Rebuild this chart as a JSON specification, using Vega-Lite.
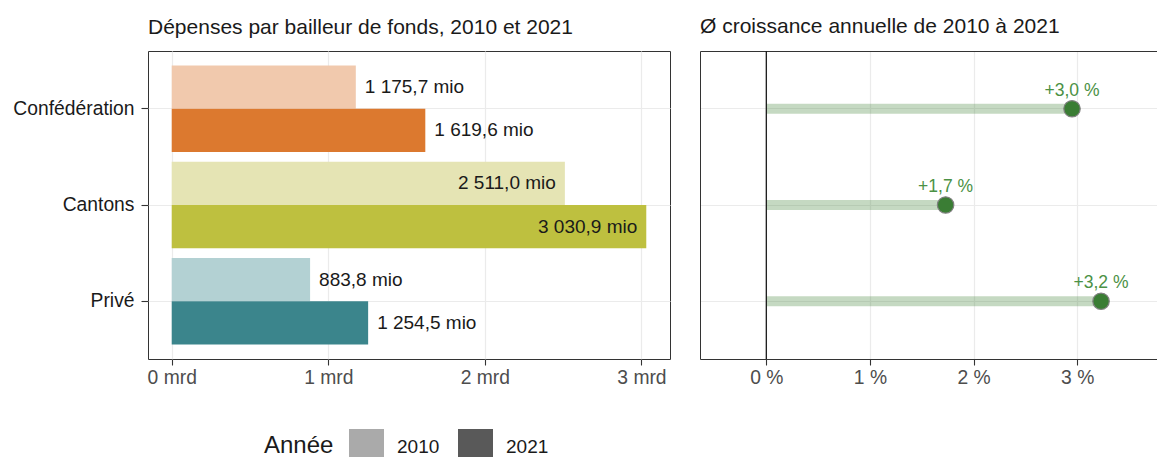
{
  "$schema": "https://vega.github.io/schema/vega-lite/v6.json",
  "background": "white",
  "padding": {"left": 12, "top": 16, "right": 0, "bottom": 0},
  "spacing": 29,
  "config": {
    "font": "Liberation Sans",
    "view": {"stroke": "#333333", "strokeWidth": 1},
    "axis": {
      "labelFont": "Liberation Sans",
      "labelFontSize": 19.3,
      "labelColor": "#4d4d4d",
      "tickColor": "#333333",
      "tickSize": 6,
      "tickWidth": 1.1,
      "gridColor": "#ebebeb",
      "gridWidth": 1.2,
      "domain": false,
      "labelPadding": 3,
      "title": null
    },
    "title": {
      "font": "Liberation Sans",
      "fontSize": 21,
      "fontWeight": "normal",
      "color": "#1a1a1a",
      "anchor": "start",
      "frame": "group",
      "offset": 13
    }
  },
  "hconcat": [
    {
      "width": 522,
      "height": 308,
      "title": "Dépenses par bailleur de fonds, 2010 et 2021",
      "data": {
        "values": [
          {"bailleur": "Confédération", "annee": "2010", "cle": "Confédération 2010", "valeur": 1175.7, "label": "1 175,7 mio"},
          {"bailleur": "Confédération", "annee": "2021", "cle": "Confédération 2021", "valeur": 1619.6, "label": "1 619,6 mio"},
          {"bailleur": "Cantons", "annee": "2010", "cle": "Cantons 2010", "valeur": 2511.0, "label": "2 511,0 mio"},
          {"bailleur": "Cantons", "annee": "2021", "cle": "Cantons 2021", "valeur": 3030.9, "label": "3 030,9 mio"},
          {"bailleur": "Privé", "annee": "2010", "cle": "Privé 2010", "valeur": 883.8, "label": "883,8 mio"},
          {"bailleur": "Privé", "annee": "2021", "cle": "Privé 2021", "valeur": 1254.5, "label": "1 254,5 mio"}
        ]
      },
      "encoding": {
        "y": {
          "field": "bailleur",
          "type": "nominal",
          "sort": ["Confédération", "Cantons", "Privé"],
          "scale": {"paddingInner": 0.1, "paddingOuter": 0.15},
          "axis": {"grid": true, "labelColor": "#1a1a1a", "labelPadding": 7, "tickSize": 7}
        },
        "yOffset": {
          "field": "annee",
          "type": "nominal",
          "sort": ["2010", "2021"],
          "scale": {"paddingInner": 0, "paddingOuter": 0}
        }
      },
      "layer": [
        {
          "mark": {"type": "bar"},
          "encoding": {
            "x": {
              "field": "valeur",
              "type": "quantitative",
              "scale": {"domain": [-151.5, 3182.4], "nice": false, "zero": false},
              "axis": {"values": [0, 1000, 2000, 3000], "labelExpr": "(datum.value / 1000) + ' mrd'", "grid": true}
            },
            "fill": {
              "field": "cle",
              "type": "nominal",
              "scale": {
                "domain": ["Confédération 2010", "Confédération 2021", "Cantons 2010", "Cantons 2021", "Privé 2010", "Privé 2021"],
                "range": ["#f1c9ad", "#dc792f", "#e5e4b4", "#bec03f", "#b3d1d3", "#3b858c"]
              },
              "legend": null
            }
          }
        },
        {
          "mark": {"type": "bar"},
          "encoding": {
            "x": {"datum": 0, "type": "quantitative"},
            "color": {
              "field": "annee",
              "type": "nominal",
              "title": "Année",
              "scale": {"domain": ["2010", "2021"], "range": ["#aaaaaa", "#595959"]},
              "legend": {
                "orient": "none",
                "legendX": 116,
                "legendY": 378,
                "direction": "horizontal",
                "titleOrient": "left",
                "titleBaseline": "line-top",
                "titleLineHeight": 6,
                "titleFont": "Liberation Sans",
                "titleFontSize": 24,
                "titleFontWeight": "normal",
                "titleColor": "#1a1a1a",
                "titlePadding": 15,
                "labelFont": "Liberation Sans",
                "labelFontSize": 19,
                "labelColor": "#1a1a1a",
                "labelOffset": 13,
                "columnPadding": 18,
                "symbolType": "M-1,-1H1V0.6H-1Z",
                "symbolSize": 1225,
                "symbolStrokeWidth": 0,
                "symbolOpacity": 1
              }
            }
          }
        },
        {
          "transform": [{"filter": "datum.bailleur !== 'Cantons'"}],
          "mark": {"type": "text", "align": "left", "baseline": "middle", "dx": 9, "fontSize": 19, "color": "#1a1a1a"},
          "encoding": {
            "x": {"field": "valeur", "type": "quantitative"},
            "text": {"field": "label", "type": "nominal"}
          }
        },
        {
          "transform": [{"filter": "datum.bailleur === 'Cantons'"}],
          "mark": {"type": "text", "align": "right", "baseline": "middle", "dx": -9, "fontSize": 19, "color": "#1a1a1a"},
          "encoding": {
            "x": {"field": "valeur", "type": "quantitative"},
            "text": {"field": "label", "type": "nominal"}
          }
        }
      ]
    },
    {
      "width": 457,
      "height": 308,
      "title": "Ø croissance annuelle de 2010 à 2021",
      "view": {"stroke": null},
      "data": {
        "values": [
          {"bailleur": "Confédération", "croissance": 2.95, "label": "+3,0 %"},
          {"bailleur": "Cantons", "croissance": 1.73, "label": "+1,7 %"},
          {"bailleur": "Privé", "croissance": 3.23, "label": "+3,2 %"}
        ]
      },
      "resolve": {"axis": {"x": "independent"}},
      "layer": [
        {
          "mark": {"type": "bar", "height": 10, "color": "#4a8a40", "opacity": 0.32},
          "encoding": {
            "y": {
              "field": "bailleur",
              "type": "nominal",
              "sort": ["Confédération", "Cantons", "Privé"],
              "scale": {"paddingInner": 0.1, "paddingOuter": 0.15},
              "axis": {"grid": true, "labels": false, "ticks": false, "domain": true, "domainColor": "#333333", "domainWidth": 1}
            },
            "x": {
              "field": "croissance",
              "type": "quantitative",
              "scale": {"domain": [-0.64, 3.77], "nice": false, "zero": false},
              "axis": {"values": [0, 1, 2, 3], "labelExpr": "datum.value + ' %'", "grid": true, "domain": true, "domainColor": "#333333", "domainWidth": 1}
            }
          }
        },
        {
          "data": {"values": [{"zero": 0}]},
          "mark": {"type": "rule", "color": "#1a1a1a", "strokeWidth": 1.3},
          "encoding": {
            "x": {
              "field": "zero",
              "type": "quantitative",
              "axis": {"orient": "top", "labels": false, "ticks": false, "grid": false, "domain": true, "domainColor": "#333333", "domainWidth": 1}
            }
          }
        },
        {
          "mark": {"type": "circle", "size": 270, "color": "#3a7d34", "opacity": 1, "stroke": "#808080", "strokeWidth": 1.2},
          "encoding": {
            "y": {"field": "bailleur", "type": "nominal", "sort": ["Confédération", "Cantons", "Privé"]},
            "x": {"field": "croissance", "type": "quantitative", "axis": null}
          }
        },
        {
          "mark": {"type": "text", "align": "center", "baseline": "alphabetic", "dy": -13, "fontSize": 17.5, "color": "#4b9145"},
          "encoding": {
            "y": {"field": "bailleur", "type": "nominal", "sort": ["Confédération", "Cantons", "Privé"]},
            "x": {"field": "croissance", "type": "quantitative", "axis": null},
            "text": {"field": "label", "type": "nominal"}
          }
        }
      ]
    }
  ]
}
